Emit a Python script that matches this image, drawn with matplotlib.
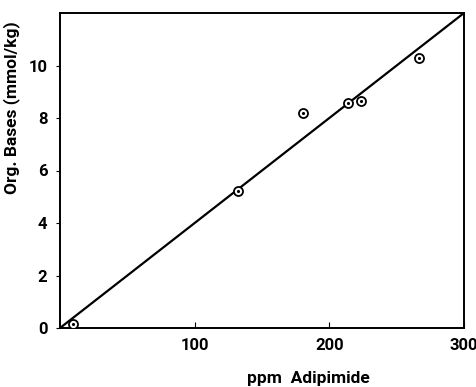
import numpy as np
import matplotlib
matplotlib.use("Agg")
from matplotlib import pyplot as plt

# measured points (ppm adipimide, org. bases mmol/kg)
ppm = [9.7, 132, 180.4, 213.6, 223.7, 266.3]
bases = [0.15, 5.23, 8.2, 8.58, 8.64, 10.3]

# fitted line
fit_x = [0, 300]
fit_y = [0, 12]

xticks = [100, 200, 300]
yticks = [0, 2, 4, 6, 8, 10]

plt.rcParams['font.family'] = ['Roboto', 'DejaVu Sans']
plt.rcParams['font.weight'] = 'bold'
plt.rcParams['axes.labelweight'] = 'bold'

fig = plt.figure(figsize=(4.77, 3.87), dpi=100)
ax = fig.add_axes([60/477, 59/387, 404/477, 315/387])

ax.plot(fit_x, fit_y, color='black', lw=1.6, zorder=2)
ax.plot(ppm, bases, 'o', ms=6.5, mfc='white', mec='black', mew=1.3, zorder=3)
ax.plot(ppm, bases, '.', ms=2.5, color='black', zorder=4)

ax.set_xlim(0, 300)
ax.set_ylim(0, 12)
ax.set_xticks(xticks)
ax.set_yticks(yticks)
ax.tick_params(axis='x', direction='in', length=4, labelsize=12, pad=7)
ax.tick_params(axis='y', direction='out', length=3, labelsize=12, pad=6)
for s in ax.spines.values():
    s.set_linewidth(1.4)

ax.set_ylabel('Org. Bases (mmol/kg)', fontsize=12.5)
ax.yaxis.set_label_coords(-0.10, 0.70)
ax.set_xlabel('ppm  Adipimide', fontsize=12.5)
ax.xaxis.set_label_coords(0.614, -0.135)

fig.savefig('out.png', dpi=100)
